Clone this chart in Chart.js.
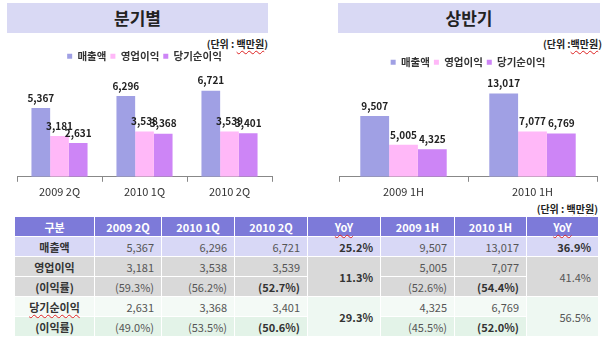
<!DOCTYPE html>
<html>
<head>
<meta charset="utf-8">
<script src="https://cdn.jsdelivr.net/npm/chart.js@4.4.1/dist/chart.umd.min.js"></script>
<style>
  body { margin: 0; width: 610px; height: 343px; background: #fff; overflow: hidden; position: relative;
         font-family: 'Noto Sans CJK KR', 'Noto Sans', sans-serif; }
  .title { position: absolute; top: 3px; height: 30px; background: #d9d9f4; color: #222;
           font-weight: bold; font-size: 17px; line-height: 30px; text-align: center; }
  .unit { position: absolute; font-size: 10px; font-weight: bold; color: #222; line-height: 12px; }
  .wavy { text-decoration: underline wavy #d22; text-decoration-thickness: 1px; text-underline-offset: 2px; }
  .box { position: absolute; }
  table { position: absolute; left: 14px; top: 216px; border-collapse: collapse; table-layout: fixed;
          font-size: 11px; color: #555; }
  td, th { height: 19px; padding: 0 7px 0 0; border: 1px solid #fff; text-align: right; white-space: nowrap; }
  th { background: #7d7ad9; color: #fff; text-align: center; padding: 0; font-weight: bold; }
  td.name { text-align: center; font-weight: bold; color: #333; padding: 0; }
  td.b { font-weight: bold; color: #333; }
  tr.r1 td { background: #d8d8f6; }
  tr.r2 td, tr.r3 td { background: #d9d9d9; }
  tr.r4 td { background: #f4faf6; }
  tr.r5 td { background: #e3f3e8; }
  td.mg { background: #eef8f2 !important; }
</style>
</head>
<body>
<div class="title" style="left:7px;width:261px;">분기별</div>
<div class="title" style="left:338px;width:262px;">상반기</div>
<div class="unit" style="right:342px;top:38px;">(단위 : <span class="wavy">백만원</span>)</div>
<div class="unit" style="right:8px;top:38px;">(단위 :<span class="wavy">백만원</span>)</div>
<div class="unit" style="right:12px;top:203px;">(단위 : <span class="wavy">백만원</span>)</div>
<div class="box" style="left:0;top:34px;width:285px;height:172px;"><canvas id="chartQ"></canvas></div>
<div class="box" style="left:330px;top:34px;width:276px;height:172px;"><canvas id="chartH"></canvas></div>
<table id="tbl"></table>
<script>
const quarterLabels = ["2009 2Q", "2010 1Q", "2010 2Q"];
const halfLabels = ["2009 1H", "2010 1H"];
const seriesNames = ["매출액", "영업이익", "당기순이익"];
const seriesColors = ["#a0a0e4", "#ffb8f8", "#cd85f6"];

const salesQ = [5367, 6296, 6721];
const opProfitQ = [3181, 3538, 3539];
const netProfitQ = [2631, 3368, 3401];
const salesH = [9507, 13017];
const opProfitH = [5005, 7077];
const netProfitH = [4325, 6769];

const opMarginQ = ["(59.3%)", "(56.2%)", "(52.7%)"];
const netMarginQ = ["(49.0%)", "(53.5%)", "(50.6%)"];
const opMarginH = ["(52.6%)", "(54.4%)"];
const netMarginH = ["(45.5%)", "(52.0%)"];
const yoyQ = ["25.2%", "11.3%", "29.3%"];
const yoyH = ["36.9%", "41.4%", "56.5%"];

Chart.defaults.font.family = "'Noto Sans CJK KR', 'Noto Sans', sans-serif";
Chart.defaults.color = "#333";
Chart.defaults.animation = false;

// value labels above each bar
const barLabels = {
  id: "barLabels",
  afterDatasetsDraw(chart) {
    const ctx = chart.ctx;
    ctx.save();
    ctx.font = "bold 10px 'Noto Sans CJK KR', sans-serif";
    ctx.fillStyle = "#222";
    ctx.textAlign = "center";
    ctx.textBaseline = "middle";
    chart.data.datasets.forEach((ds, i) => {
      chart.getDatasetMeta(i).data.forEach((bar, j) => {
        ctx.fillText(ds.data[j].toLocaleString("en-US"), bar.x, bar.y - 10);
      });
    });
    ctx.restore();
  },
};

function makeChart(el, labels, values, yMax, pad, catPct) {
  return new Chart(el, {
    type: "bar",
    data: {
      labels: labels,
      datasets: values.map((v, i) => ({
        label: seriesNames[i],
        data: v,
        backgroundColor: seriesColors[i],
        categoryPercentage: catPct,
        barPercentage: 1,
      })),
    },
    options: {
      responsive: true,
      maintainAspectRatio: false,
      layout: { padding: pad },
      plugins: {
        legend: {
          position: "top",
          labels: { boxWidth: 5, boxHeight: 5, padding: 4, font: { size: 10.5, weight: "bold" }, color: "#333" },
        },
        tooltip: { enabled: false },
      },
      scales: {
        x: {
          grid: { display: true, drawOnChartArea: false, tickLength: 5, color: "#888" },
          border: { display: true, color: "#888" },
          ticks: { padding: 3, font: { size: 11 }, color: "#333" },
        },
        y: { display: false, min: 0, max: yMax },
      },
    },
    plugins: [barLabels],
  });
}

makeChart(document.getElementById("chartQ"), quarterLabels, [salesQ, opProfitQ, netProfitQ],
  8216, { top: 13, left: 17, right: 13, bottom: 5 }, 0.66);
makeChart(document.getElementById("chartH"), halfLabels, [salesH, opProfitH, netProfitH],
  15530, { top: 19, left: 9, right: 9, bottom: 5 }, 0.67);

// table
const colWidths = [80, 67, 73, 73, 73, 74, 72, 72];
const fmt = (n) => n.toLocaleString("en-US");
const bold2Q = (s, j) => (j === 2 ? '<td class="b">' + s + "</td>" : "<td>" + s + "</td>");
const bold1H = (s, j) => (j === 1 ? '<td class="b">' + s + "</td>" : "<td>" + s + "</td>");

let html = "<colgroup>" + colWidths.map((w) => '<col style="width:' + w + 'px">').join("") + "</colgroup>";
html += "<tr><th>구분</th>" + quarterLabels.map((l) => "<th>" + l + "</th>").join("") +
  '<th><span class="wavy">YoY</span></th>' + halfLabels.map((l) => "<th>" + l + "</th>").join("") +
  '<th><span class="wavy">YoY</span></th></tr>';
html += '<tr class="r1"><td class="name">매출액</td>' + salesQ.map((v) => "<td>" + fmt(v) + "</td>").join("") +
  '<td class="b">' + yoyQ[0] + "</td>" + salesH.map((v) => "<td>" + fmt(v) + "</td>").join("") +
  '<td class="b">' + yoyH[0] + "</td></tr>";
html += '<tr class="r2"><td class="name">영업이익</td>' + opProfitQ.map((v) => "<td>" + fmt(v) + "</td>").join("") +
  '<td class="b" rowspan="2">' + yoyQ[1] + "</td>" + opProfitH.map((v) => "<td>" + fmt(v) + "</td>").join("") +
  '<td rowspan="2">' + yoyH[1] + "</td></tr>";
html += '<tr class="r3"><td class="name">(이익률)</td>' + opMarginQ.map(bold2Q).join("") +
  opMarginH.map(bold1H).join("") + "</tr>";
html += '<tr class="r4"><td class="name"><span class="wavy">당기순이익</span></td>' + netProfitQ.map((v) => "<td>" + fmt(v) + "</td>").join("") +
  '<td class="b mg" rowspan="2">' + yoyQ[2] + "</td>" + netProfitH.map((v) => "<td>" + fmt(v) + "</td>").join("") +
  '<td class="mg" rowspan="2">' + yoyH[2] + "</td></tr>";
html += '<tr class="r5"><td class="name">(이익률)</td>' + netMarginQ.map(bold2Q).join("") +
  netMarginH.map(bold1H).join("") + "</tr>";
document.getElementById("tbl").innerHTML = html;
</script>
</body>
</html>
